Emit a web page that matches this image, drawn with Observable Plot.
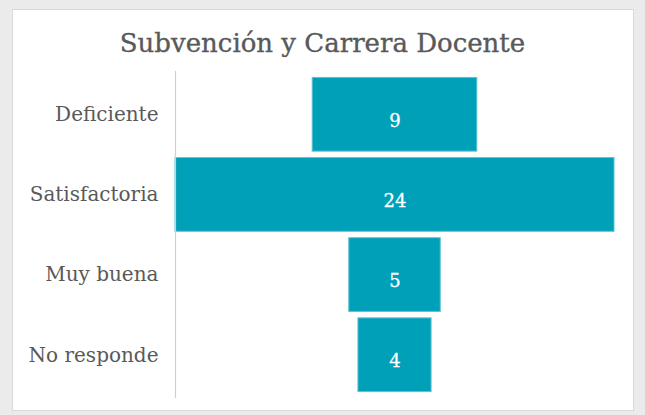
<!DOCTYPE html>
<html>
<head>
<meta charset="utf-8">
<script src="https://cdn.jsdelivr.net/npm/d3@7"></script>
<script src="https://cdn.jsdelivr.net/npm/@observablehq/plot@0.6"></script>
<style>
  html, body { margin: 0; padding: 0; background: #ebebeb; }
  #wrap { position: relative; width: 645px; height: 415px; overflow: hidden; }
  #panel { position: absolute; left: 12px; top: 9px; width: 620px; height: 400px; background: #fff; border: 1px solid #d9d9d9; }
  #title { position: absolute; left: 0; width: 645px; top: 27px; text-align: center; font-family: "DejaVu Serif", serif; font-size: 26px; color: #595959; line-height: 32px; -webkit-text-stroke: 0.35px #595959; }
  #chart { position: absolute; left: 0; top: 0; }
  #chart svg { background: transparent; }
</style>
</head>
<body>
<div id="wrap">
  <div id="panel"></div>
  <div id="title">Subvención y Carrera Docente</div>
  <div id="chart"></div>
</div>
<script>
const categories = ["Deficiente", "Satisfactoria", "Muy buena", "No responde"];
const values = [9, 24, 5, 4];
const maxValue = 24;

const data = categories.map((c, i) => ({cat: c, v: values[i]}));

const chart = Plot.plot({
  width: 645,
  height: 415,
  marginLeft: 175,
  marginRight: 31,
  marginTop: 71,
  marginBottom: 17,
  style: {background: "transparent", fontFamily: "DejaVu Serif, serif"},
  x: {domain: [-maxValue / 2, maxValue / 2], axis: null},
  y: {domain: categories, padding: 0.08, round: false, label: null},
  marks: [
    Plot.barX(data, {
      y: "cat",
      x1: d => -d.v / 2,
      x2: d => d.v / 2,
      fill: "#00a0b9",
      stroke: "#5cc3d2",
      strokeWidth: 1
    }),
    Plot.text(data, {
      y: "cat",
      x: 0,
      text: d => String(d.v),
      fill: "white",
      fontSize: 18,
      dy: 6,
      stroke: "white",
      strokeWidth: 0.3
    }),
    Plot.ruleX([-maxValue / 2], {stroke: "#d0d0d0", strokeWidth: 1.2}),
    Plot.axisY({tickSize: 0, tickPadding: 17, fontSize: 20, fill: "#595959", label: null})
  ]
});
document.getElementById("chart").appendChild(chart);
</script>
</body>
</html>
